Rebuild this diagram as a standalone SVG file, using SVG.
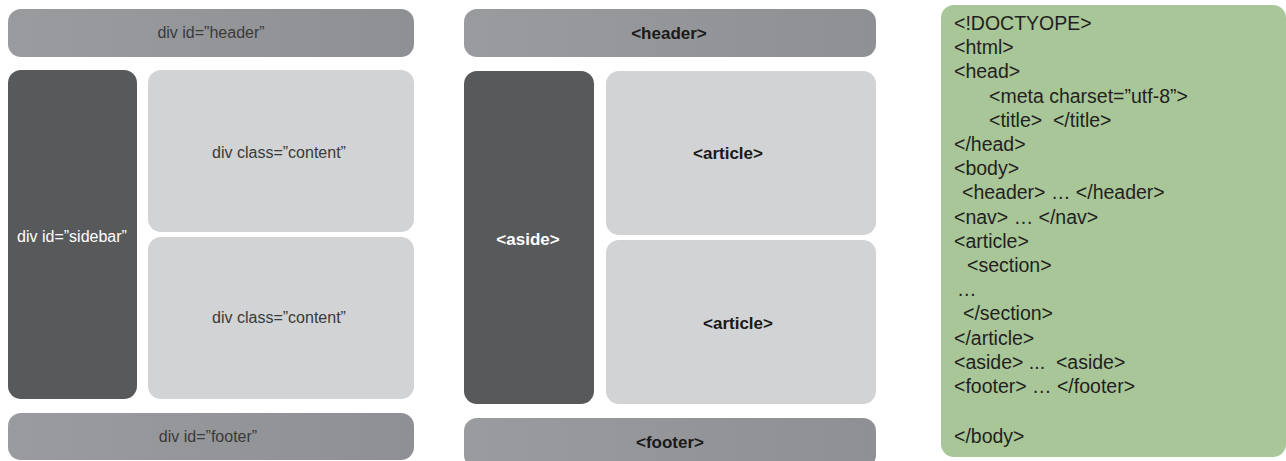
<svg xmlns="http://www.w3.org/2000/svg" width="1286" height="461" viewBox="0 0 1286 461">
  <defs>
    <linearGradient id="barGrad" x1="0" y1="0" x2="1" y2="0">
      <stop offset="0" stop-color="#9a9b9e"/>
      <stop offset="1" stop-color="#8f9093"/>
    </linearGradient>
    <style>
      .bar { fill: url(#barGrad); }
      .dark { fill: #58595b; }
      .light { fill: #d1d3d4; }
      .code { fill: #a8c698; }
      .lbl { font-family: "Liberation Sans", Arial, sans-serif; font-size: 16px; fill: #3a3a3a; text-anchor: middle; }
      .lblw { font-family: "Liberation Sans", Arial, sans-serif; font-size: 16px; fill: #ffffff; text-anchor: middle; }
      .bold { font-family: "Liberation Sans", Arial, sans-serif; font-size: 17px; font-weight: bold; fill: #1a1a1a; text-anchor: middle; }
      .boldw { font-family: "Liberation Sans", Arial, sans-serif; font-size: 17px; font-weight: bold; fill: #ffffff; text-anchor: middle; }
      .src { font-family: "Liberation Sans", Arial, sans-serif; font-size: 19.5px; fill: #231f20; }
    </style>
  </defs>
  <rect width="1286" height="461" fill="#ffffff"/>

  <!-- Left layout: div-based -->
  <g id="div-header">
    <rect class="bar" x="8" y="9" width="406" height="48" rx="13"/>
    <text class="lbl" x="211" y="38">div id=”header”</text>
  </g>
  <g id="div-sidebar">
    <rect class="dark" x="8" y="70" width="129" height="329" rx="13"/>
    <text class="lblw" x="72" y="242">div id=”sidebar”</text>
  </g>
  <g id="div-content-1">
    <rect class="light" x="148" y="70" width="266" height="162" rx="13"/>
    <text class="lbl" x="279" y="158">div class=”content”</text>
  </g>
  <g id="div-content-2">
    <rect class="light" x="148" y="237" width="266" height="162" rx="13"/>
    <text class="lbl" x="279" y="323">div class=”content”</text>
  </g>
  <g id="div-footer">
    <rect class="bar" x="8" y="413" width="406" height="47" rx="13"/>
    <text class="lbl" x="208" y="442">div id=”footer”</text>
  </g>

  <!-- Middle layout: HTML5 semantic -->
  <g id="html5-header">
    <rect class="bar" x="464" y="9" width="412" height="48" rx="13"/>
    <text class="bold" x="669" y="39">&lt;header&gt;</text>
  </g>
  <g id="html5-aside">
    <rect class="dark" x="464" y="71" width="130" height="333" rx="13"/>
    <text class="boldw" x="528" y="245">&lt;aside&gt;</text>
  </g>
  <g id="html5-article-1">
    <rect class="light" x="606" y="71" width="270" height="164" rx="13"/>
    <text class="bold" x="728" y="159">&lt;article&gt;</text>
  </g>
  <g id="html5-article-2">
    <rect class="light" x="606" y="240" width="270" height="164" rx="13"/>
    <text class="bold" x="738" y="329">&lt;article&gt;</text>
  </g>
  <g id="html5-footer">
    <rect class="bar" x="464" y="418" width="412" height="50" rx="13"/>
    <text class="bold" x="670" y="448">&lt;footer&gt;</text>
  </g>

  <!-- Right: source code panel -->
  <g id="source-code">
    <rect class="code" x="941" y="5" width="345" height="452" rx="13"/>
    <text class="src" x="954" y="30">&lt;!DOCTYOPE&gt;</text>
    <text class="src" x="954" y="54">&lt;html&gt;</text>
    <text class="src" x="954" y="78">&lt;head&gt;</text>
    <text class="src" x="989" y="103">&lt;meta charset=”utf-8”&gt;</text>
    <text class="src" x="989" y="127" xml:space="preserve">&lt;title&gt;  &lt;/title&gt;</text>
    <text class="src" x="954" y="151">&lt;/head&gt;</text>
    <text class="src" x="954" y="175">&lt;body&gt;</text>
    <text class="src" x="962" y="199">&lt;header&gt; … &lt;/header&gt;</text>
    <text class="src" x="954" y="224">&lt;nav&gt; … &lt;/nav&gt;</text>
    <text class="src" x="954" y="248">&lt;article&gt;</text>
    <text class="src" x="967" y="272">&lt;section&gt;</text>
    <text class="src" x="957" y="296">…</text>
    <text class="src" x="963" y="320">&lt;/section&gt;</text>
    <text class="src" x="954" y="345">&lt;/article&gt;</text>
    <text class="src" x="954" y="369" xml:space="preserve">&lt;aside&gt; ...  &lt;aside&gt;</text>
    <text class="src" x="954" y="393">&lt;footer&gt; … &lt;/footer&gt;</text>
    <text class="src" x="954" y="443">&lt;/body&gt;</text>
  </g>

  <g id="connectors"/>
</svg>
